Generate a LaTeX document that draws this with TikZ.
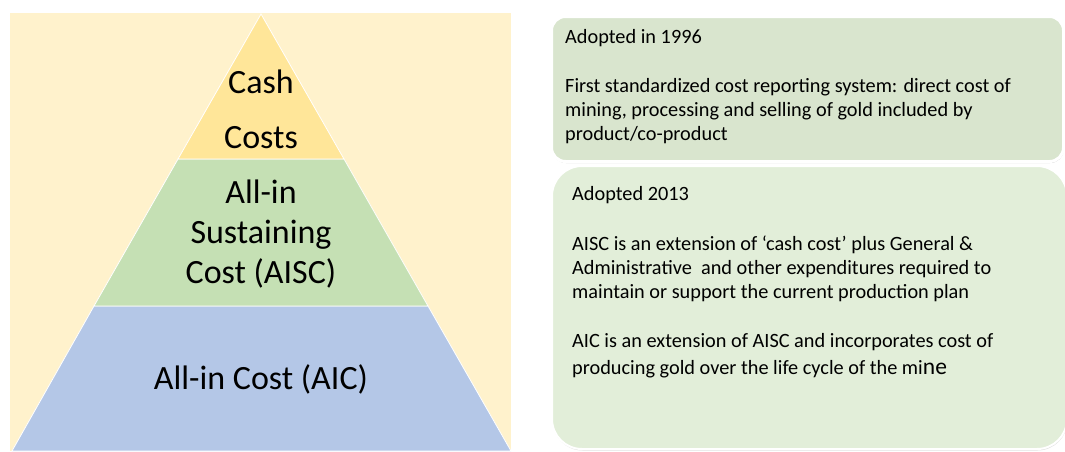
\documentclass[tikz,border=0pt]{standalone}
\usepackage{fontspec}
\setmainfont{Carlito}
\usetikzlibrary{shadows}
\definecolor{cream}{HTML}{FFF2CC}
\definecolor{gold}{HTML}{FFE699}
\definecolor{sage}{HTML}{C5E0B4}
\definecolor{steel}{HTML}{B4C7E7}
\definecolor{panelA}{HTML}{D9E5CE}
\definecolor{panelB}{HTML}{E2EED9}

\begin{document}
\begin{tikzpicture}[x=1pt,y=-1pt,
  layer/.style={draw=white,line width=.8pt},
  tier/.style={align=center,inner sep=0pt,font=\fontsize{34}{#1}\selectfont},
  panel/.style={draw=white,line width=3pt,anchor=north west,inner sep=0pt},
  note/.style={align=left,anchor=base west,inner sep=0pt,font=\fontsize{20.3}{24}\selectfont}]
\useasboundingbox (0,0) rectangle (1065,451);
% pyramid on its backdrop
\fill[cream] (10,13) rectangle (511,451);
\filldraw[layer,fill=steel] (94,306) -- (428,306) -- (511,451) -- (12,451) -- cycle;
\filldraw[layer,fill=sage] (178,159) -- (344,159) -- (428,306) -- (94,306) -- cycle;
\filldraw[layer,fill=gold] (261,14) -- (344,159) -- (178,159) -- cycle;
\node[tier=55] (cash) at (261,109) {Cash\\Costs};
\node[tier=40] (aisc) at (261,234) {All-in\\Sustaining\\Cost (AISC)};
\node[tier=40] (aic) at (261,379) {All-in Cost (AIC)};
% the two notes (text hangs from its last baseline)
\node[panel,fill=panelA,rounded corners=14pt,minimum width=512pt,minimum height=145pt,
  drop shadow={shadow xshift=.5pt,shadow yshift=-1.5pt,opacity=.5}] (p96) at (550,15) {};
\node[panel,fill=panelB,line width=2pt,rounded corners=30pt,minimum width=515pt,minimum height=283pt,
  drop shadow={shadow xshift=.5pt,shadow yshift=-1.5pt,opacity=.25}] (p13) at (551,165) {};
\node[note] (t96) at ([xshift=15pt,yshift=-125pt]p96.north west)
  {Adopted in 1996\\[25pt]
   First standardized cost reporting system: direct cost of\\
   mining, processing and selling of gold included by\\
   product/co-product};
\node[note] (t13) at ([xshift=21pt,yshift=-209pt]p13.north west)
  {Adopted 2013\\[26pt]
   AISC is an extension of ‘cash cost’ plus General \&\\
   Administrative\ \ and other expenditures required to\\
   maintain or support the current production plan\\[25pt]
   AIC is an extension of AISC and incorporates cost of\\[3pt]
   producing gold over the life cycle of the mi{\fontsize{23.5}{24}\selectfont ne}};
\end{tikzpicture}
\end{document}
